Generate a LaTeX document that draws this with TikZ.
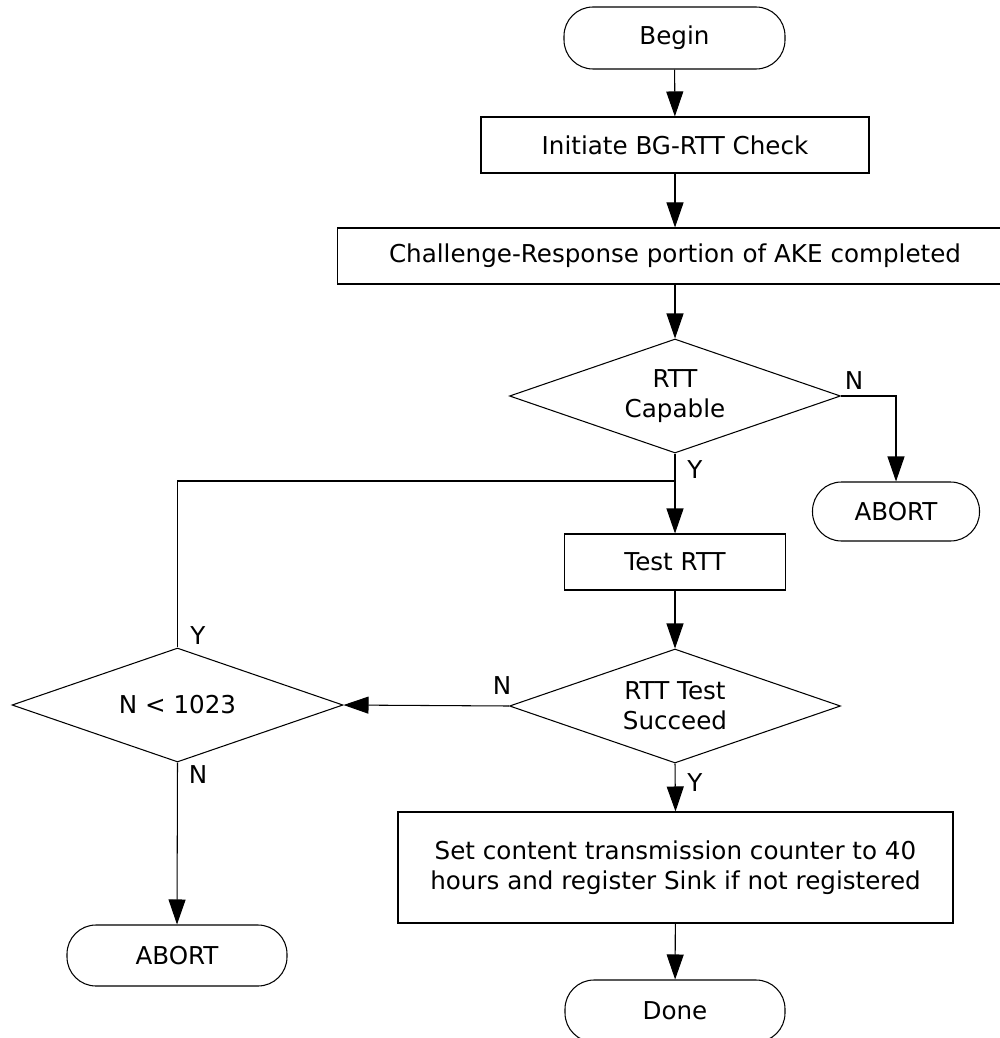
\documentclass[tikz,border=0pt]{standalone}
\usepackage{fontspec}
\setmainfont{DejaVu Sans}
\usepackage{tikz}
\usetikzlibrary{shapes.geometric,arrows.meta}

\begin{document}
\begin{tikzpicture}[
  font=\fontsize{14}{17}\selectfont,
  every path/.style={line width=0.6pt},
  block/.style={rectangle, draw, inner sep=0pt, align=center},
  terminal/.style={rectangle, draw, rounded corners=0.58cm, inner sep=0pt, align=center},
  decision/.style={diamond, draw, inner sep=0pt, minimum width=6.62cm, minimum height=2.28cm, shape aspect=2.9, align=center},
  arrow/.style={-{Triangle[length=0.5cm,width=0.34cm]}},
  tag/.style={inner sep=0pt}
]
\useasboundingbox (0,0) rectangle (19.98,-20.76);

% Start
\node[terminal, minimum width=4.42cm, minimum height=1.24cm] (begin) at (13.49,-0.76) {Begin};
\node[block, minimum width=7.76cm, minimum height=1.12cm] (init) at (13.5,-2.9) {Initiate BG-RTT Check};
\node[block, minimum width=13.5cm, minimum height=1.12cm] (chal) at (13.5,-5.12) {Challenge-Response portion of AKE completed};

% Capability check
\node[decision] (capable) at (13.5,-7.92) {RTT\\Capable};
\node[terminal, minimum width=3.34cm, minimum height=1.18cm] (abortR) at (17.92,-10.23) {ABORT};

% RTT test loop
\node[block, minimum width=4.42cm, minimum height=1.12cm] (test) at (13.5,-11.24) {Test RTT};
\node[decision] (succeed) at (13.5,-14.12) {RTT Test\\Succeed};
\node[decision] (count) at (3.55,-14.1) {N < 1023};
\node[terminal, minimum width=4.4cm, minimum height=1.22cm] (abortL) at (3.54,-19.11) {ABORT};
\coordinate (join) at (13.5,-9.62);

% Finish
\node[block, minimum width=11.1cm, minimum height=2.22cm] (setc) at (13.51,-17.35) {Set content transmission counter to 40\\hours and register Sink if not registered};
\node[terminal, minimum width=4.4cm, minimum height=1.24cm] (done) at (13.5,-20.22) {Done};

% Labels
\node[tag] (nCap) at (17.08,-7.62) {N};
\node[tag] (yCap) at (13.9,-9.4) {Y};
\node[tag] (nSuc) at (10.04,-13.72) {N};
\node[tag] (ySuc) at (13.9,-15.66) {Y};
\node[tag] (yCnt) at (3.96,-12.72) {Y};
\node[tag] (nCnt) at (3.96,-15.5) {N};

% Arrows
\draw[arrow] (begin) -- (init);
\draw[arrow] (init) -- (chal);
\draw[arrow] (chal) -- (capable);
\draw[arrow] (capable.east) -| (abortR.north);
\draw[arrow] (capable.south) -- (test.north);
\draw (count.north) |- (join);
\draw[arrow] (test) -- (succeed);
\draw[arrow] (succeed.west) -- (count.east);
\draw[arrow] (count.south) -- (abortL.north);
\draw[arrow] (succeed.south) -- (setc.north);
\draw[arrow] (setc) -- (done);

\end{tikzpicture}
\end{document}
